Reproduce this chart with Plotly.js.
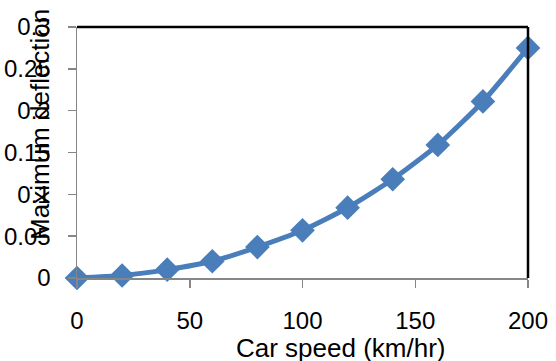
<!DOCTYPE html>
<html>
<head>
<meta charset="utf-8">
<script src="https://cdn.plot.ly/plotly-3.0.1.min.js"></script>
<style>
  html, body { margin: 0; padding: 0; background: #ffffff; }
  #chart { width: 556px; height: 361px; }
</style>
</head>
<body>
<div id="chart"></div>
<script>
// Car speed (km/hr) against maximum deflection
const speed = [0, 20, 40, 60, 80, 100, 120, 140, 160, 180, 200];
const deflection = [0.000, 0.003, 0.010, 0.020, 0.037, 0.057, 0.084, 0.118, 0.159, 0.211, 0.275];

const xTickVals = [0, 50, 100, 150, 200];
const xTickText = ['0', '50', '100', '150', '200'];
const yTickVals = [0, 0.05, 0.1, 0.15, 0.2, 0.25, 0.3];
const yTickText = ['0', '0.05', '0.1', '0.15', '0.2', '0.25', '0.3'];

const xTitle = 'Car speed (km/hr)';
const yTitle = 'Maximum deflection';

const blue = '#4A7EBB';
const axisGrey = '#868686';
const font = 'Liberation Sans, Arial, sans-serif';

const trace = {
  x: speed,
  y: deflection,
  type: 'scatter',
  mode: 'lines+markers',
  line: { color: blue, width: 5, shape: 'spline', smoothing: 0.6 },
  marker: { symbol: 'diamond', size: 19, color: blue },
  cliponaxis: false,
  hoverinfo: 'skip'
};

const layout = {
  width: 556,
  height: 361,
  margin: { l: 77, r: 28, t: 27, b: 83 },
  paper_bgcolor: '#ffffff',
  plot_bgcolor: '#ffffff',
  showlegend: false,
  font: { family: font, size: 24, color: '#000000' },
  xaxis: {
    range: [0, 200],
    tickvals: xTickVals,
    ticktext: xTickText,
    ticks: 'outside',
    ticklen: 8,
    tickwidth: 1.5,
    tickcolor: axisGrey,
    ticklabelstandoff: 13,
    showline: true,
    linecolor: axisGrey,
    linewidth: 1.5,
    showgrid: false,
    zeroline: false,
    tickfont: { family: font, size: 24, color: '#000000' }
  },
  yaxis: {
    range: [0, 0.3],
    tickvals: yTickVals,
    ticktext: yTickText,
    ticks: 'outside',
    ticklen: 8,
    tickwidth: 1.5,
    tickcolor: axisGrey,
    ticklabelstandoff: 12,
    showline: true,
    linecolor: axisGrey,
    linewidth: 1.5,
    showgrid: false,
    zeroline: false,
    tickfont: { family: font, size: 24, color: '#000000' }
  },
  shapes: [
    // plot-area border on the top and right
    { type: 'line', xref: 'paper', yref: 'paper', x0: 0, x1: 1, y0: 1, y1: 1,
      line: { color: '#000000', width: 2.5 } },
    { type: 'line', xref: 'paper', yref: 'paper', x0: 1, x1: 1, y0: 0, y1: 1,
      line: { color: '#000000', width: 2.5 } }
  ],
  annotations: [
    { text: xTitle, xref: 'paper', yref: 'paper', x: 0.585, y: -0.279,
      xanchor: 'center', yanchor: 'middle', showarrow: false,
      font: { family: font, size: 26, color: '#000000' } },
    { text: yTitle, xref: 'paper', yref: 'paper', x: -0.082, y: 0.61,
      xanchor: 'center', yanchor: 'middle', textangle: -90, showarrow: false,
      font: { family: font, size: 26, color: '#000000' } }
  ]
};

Plotly.newPlot('chart', [trace], layout, { staticPlot: true, displayModeBar: false });
</script>
</body>
</html>
